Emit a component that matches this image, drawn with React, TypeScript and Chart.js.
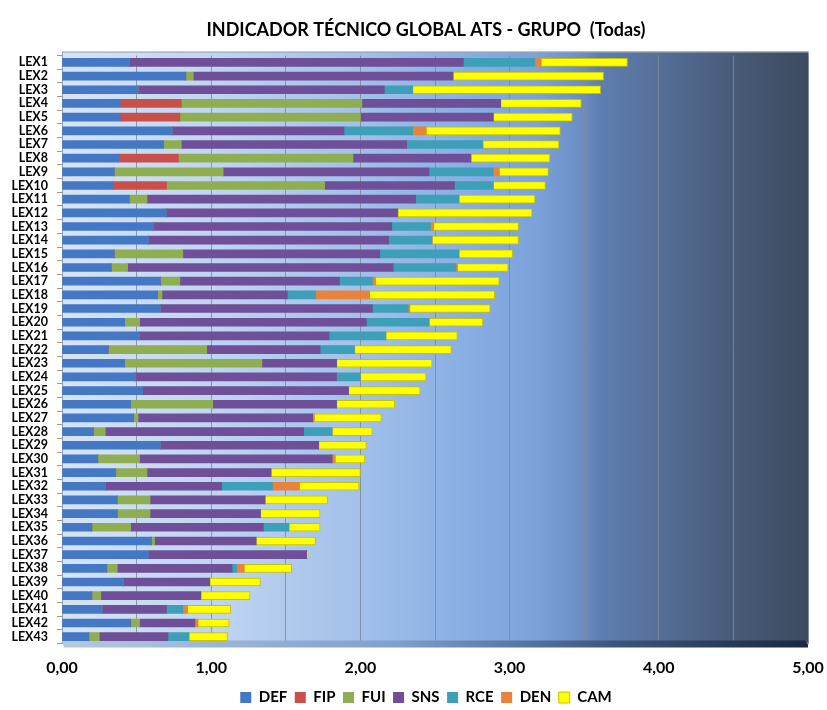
import React, { useEffect, useRef } from "react";
import { Chart, registerables } from "chart.js";

Chart.register(...registerables);

const categories = [
  "LEX1", "LEX2", "LEX3", "LEX4", "LEX5", "LEX6", "LEX7", "LEX8", "LEX9", "LEX10",
  "LEX11", "LEX12", "LEX13", "LEX14", "LEX15", "LEX16", "LEX17", "LEX18", "LEX19", "LEX20",
  "LEX21", "LEX22", "LEX23", "LEX24", "LEX25", "LEX26", "LEX27", "LEX28", "LEX29", "LEX30",
  "LEX31", "LEX32", "LEX33", "LEX34", "LEX35", "LEX36", "LEX37", "LEX38", "LEX39", "LEX40",
  "LEX41", "LEX42", "LEX43",
];

const DEF = [0.45, 0.83, 0.51, 0.39, 0.39, 0.74, 0.68, 0.38, 0.35, 0.34, 0.45, 0.70, 0.61, 0.58, 0.35, 0.33, 0.66, 0.64, 0.66, 0.42, 0.52, 0.31, 0.42, 0.49, 0.54, 0.46, 0.48, 0.21, 0.66, 0.24, 0.36, 0.29, 0.37, 0.37, 0.20, 0.60, 0.58, 0.30, 0.41, 0.20, 0.27, 0.46, 0.18];
const FIP = [0, 0, 0, 0.41, 0.40, 0, 0, 0.40, 0, 0.36, 0, 0, 0, 0, 0, 0, 0, 0, 0, 0, 0, 0, 0, 0, 0, 0, 0, 0, 0, 0, 0, 0, 0, 0, 0, 0, 0, 0, 0, 0, 0, 0, 0];
const FUI = [0, 0.05, 0, 1.21, 1.21, 0, 0.12, 1.17, 0.73, 1.06, 0.12, 0, 0, 0, 0.46, 0.11, 0.13, 0.03, 0, 0.10, 0, 0.66, 0.92, 0, 0, 0.55, 0.03, 0.08, 0, 0.28, 0.21, 0, 0.22, 0.22, 0.26, 0.02, 0, 0.07, 0, 0.06, 0, 0.06, 0.07];
const SNS = [2.24, 1.74, 1.65, 0.93, 0.89, 1.15, 1.51, 0.79, 1.38, 0.87, 1.80, 1.55, 1.60, 1.61, 1.32, 1.78, 1.07, 0.84, 1.42, 1.52, 1.27, 0.76, 0.50, 1.35, 1.38, 0.83, 1.17, 1.33, 1.06, 1.29, 0.83, 0.78, 0.77, 0.74, 0.89, 0.68, 1.06, 0.77, 0.58, 0.67, 0.43, 0.37, 0.46];
const RCE = [0.48, 0, 0.19, 0, 0, 0.46, 0.51, 0, 0.43, 0.26, 0.29, 0, 0.26, 0.29, 0.53, 0.42, 0.22, 0.19, 0.24, 0.42, 0.38, 0.23, 0, 0.16, 0, 0, 0, 0.19, 0, 0, 0, 0.34, 0, 0, 0.17, 0, 0, 0.03, 0, 0, 0.11, 0, 0.14];
const DEN = [0.04, 0, 0, 0, 0, 0.09, 0, 0, 0.04, 0, 0, 0, 0.02, 0, 0, 0.01, 0.02, 0.36, 0.01, 0, 0, 0, 0, 0, 0, 0, 0.01, 0, 0, 0.02, 0, 0.18, 0, 0, 0, 0, 0, 0.05, 0, 0, 0.03, 0.02, 0];
const CAM = [0.58, 1.01, 1.26, 0.54, 0.53, 0.90, 0.51, 0.53, 0.33, 0.35, 0.51, 0.90, 0.57, 0.58, 0.36, 0.34, 0.83, 0.84, 0.54, 0.36, 0.48, 0.65, 0.64, 0.44, 0.48, 0.39, 0.45, 0.27, 0.32, 0.20, 0.60, 0.40, 0.42, 0.40, 0.21, 0.40, 0.01, 0.32, 0.34, 0.33, 0.29, 0.21, 0.26];

const seriesNames = ["DEF", "FIP", "FUI", "SNS", "RCE", "DEN", "CAM"];
const seriesValues = [DEF, FIP, FUI, SNS, RCE, DEN, CAM];
const seriesColors = ["#4477c4", "#c9504a", "#8fae52", "#6f4f97", "#3d9fb8", "#e8833a", "#ffff00"];
const seriesBorders = ["#4477c4", "#c9504a", "#8fae52", "#6f4f97", "#3d9fb8", "#e8833a", "#c6c200"];

const TITLE = "INDICADOR TÉCNICO GLOBAL ATS - GRUPO  (Todas)";
const FONT = "Lato, 'Open Sans', sans-serif";

const bgPlugin = {
  id: "plotBg",
  beforeDraw(chart: any) {
    const { ctx, chartArea } = chart;
    if (!chartArea) return;
    const { left, right, top, bottom } = chartArea;
    const g = ctx.createLinearGradient(left, 0, right, 0);
    g.addColorStop(0, "#d6e4f6");
    g.addColorStop(0.2, "#c0d5f1");
    g.addColorStop(0.4, "#a2c0ea");
    g.addColorStop(0.55, "#87ade3");
    g.addColorStop(0.64, "#7aa1da");
    g.addColorStop(0.7, "#6a8cc3");
    g.addColorStop(0.72, "#5f7eb0");
    g.addColorStop(0.8, "#556f98");
    g.addColorStop(0.9, "#485b78");
    g.addColorStop(1, "#3d4a5f");
    ctx.save();
    ctx.fillStyle = g;
    ctx.fillRect(left, top - 4, right - left, bottom - top + 4);
    ctx.strokeStyle = "#9aa4b0";
    ctx.lineWidth = 1;
    ctx.strokeRect(left + 0.5, top - 3.5, right - left, bottom - top + 3);
    ctx.restore();
  },
  beforeDatasetsDraw(chart: any) {
    const { ctx, chartArea } = chart;
    const { left, right, bottom } = chartArea;
    const g = ctx.createLinearGradient(left, 0, right, 0);
    g.addColorStop(0, "#b4c8e2");
    g.addColorStop(0.45, "#7f9fcc");
    g.addColorStop(0.75, "#3b5379");
    g.addColorStop(1, "#1b2840");
    ctx.save();
    ctx.fillStyle = g;
    ctx.beginPath();
    ctx.moveTo(left, bottom - 3);
    ctx.lineTo(right - 3, bottom - 3);
    ctx.lineTo(right, bottom + 1);
    ctx.lineTo(right, bottom + 4);
    ctx.lineTo(left + 2, bottom + 4);
    ctx.closePath();
    ctx.fill();
    ctx.restore();
  },
};

export default function App() {
  const ref = useRef<HTMLCanvasElement | null>(null);

  useEffect(() => {
    if (!ref.current) return;
    const chart = new Chart(ref.current, {
      type: "bar",
      data: {
        labels: categories,
        datasets: seriesNames.map((name, i) => ({
          label: name,
          data: seriesValues[i],
          backgroundColor: seriesColors[i],
          borderColor: seriesBorders[i],
          borderWidth: name === "CAM" ? 1 : 0,
          borderSkipped: false,
          barThickness: 8,
        })),
      },
      options: {
        indexAxis: "y",
        animation: false,
        responsive: false,
        maintainAspectRatio: false,
        layout: { padding: { left: 14, right: -11, top: 0, bottom: -5 } },
        plugins: {
          title: {
            display: true,
            text: TITLE,
            color: "#000",
            font: { family: FONT, size: 18, weight: "bold" },
            padding: { top: 19, bottom: 15 },
          },
          legend: {
            position: "bottom",
            labels: {
              color: "#000",
              font: { family: FONT, size: 15, weight: "bold" },
              boxWidth: 11,
              boxHeight: 11,
              padding: 7.5,
            },
          },
          tooltip: { enabled: false },
        },
        scales: {
          x: {
            stacked: true,
            min: 0,
            max: 5,
            afterFit(scale: any) {
              scale.height = 39;
              scale.paddingRight = 19;
            },
            ticks: {
              stepSize: 0.5,
              autoSkip: false,
              maxRotation: 0,
              padding: 15,
              color: "#000",
              font: { family: FONT, size: 16, weight: "bold" },
              callback(value: any) {
                const v = Number(value);
                if (Math.abs(v - Math.round(v)) > 1e-6) return "";
                return v.toFixed(2).replace(".", ",");
              },
            },
            grid: { color: "rgba(128,138,152,0.85)", drawTicks: false },
            border: { display: false },
          },
          y: {
            stacked: true,
            afterFit(scale: any) {
              scale.width = 48;
              scale._computeLabelArea = () => undefined;
            },
            ticks: {
              autoSkip: false,
              padding: 9,
              color: "#000",
              font: { family: FONT, size: 12.5, weight: "bold" },
            },
            grid: { drawOnChartArea: false, tickLength: 5, color: "#9a9a9a" },
            border: { display: true, color: "#9a9a9a" },
          },
        },
      },
      plugins: [bgPlugin],
    } as any);
    return () => chart.destroy();
  }, []);

  return (
    <div style={{ position: "absolute", left: 0, top: 0, width: 827, height: 710, background: "#fff" }}>
      <canvas ref={ref} width={827} height={710} style={{ width: 827, height: 710, display: "block" }} />
    </div>
  );
}
